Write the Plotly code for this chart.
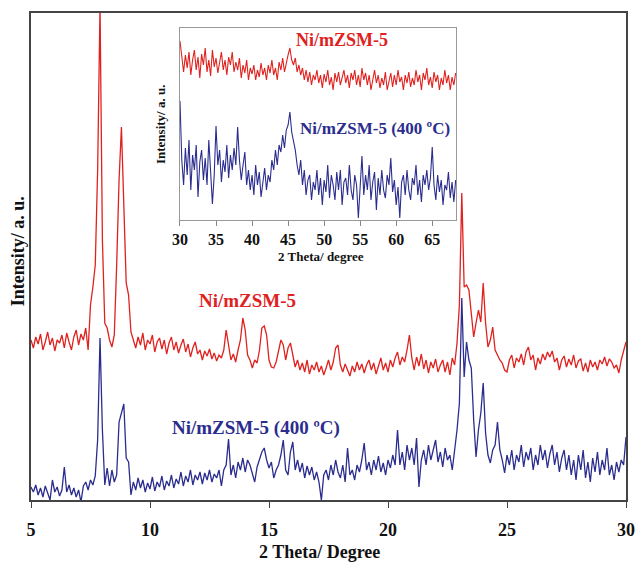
import numpy as np
import plotly.graph_objects as go

# ---- main pattern: 2 theta from 5 to 30 deg, 0.1 deg steps ----
two_theta = np.round(np.arange(5.0, 30.0001, 0.1), 2)

ni_mzsm5 = [
    160, 152, 163, 156, 166, 150, 158, 168, 155, 162,   # 5.0
    149, 160, 157, 165, 152, 167, 158, 150, 163, 170,   # 6.0
    155, 166, 160, 172, 150, 195, 213, 235, 330, 495,   # 7.0
    260, 177, 172, 160, 153, 165, 235, 320, 373, 300,   # 8.0
    217, 205, 168, 160, 152, 163, 155, 167, 150, 160,   # 9.0
    156, 165, 148, 158, 162, 151, 160, 146, 157, 163,   # 10.0
    150, 158, 147, 155, 161, 148, 156, 143, 152, 158,   # 11.0
    146, 150, 140, 149, 144, 151, 141, 147, 139, 145,   # 12.0
    142, 150, 170, 155, 140, 146, 138, 150, 160, 182,   # 13.0
    170, 145, 140, 132, 140, 137, 150, 172, 174, 165,   # 14.0
    140, 133, 132, 138, 150, 160, 155, 140, 152, 157,   # 15.0
    145, 133, 140, 130, 137, 128, 140, 126, 135, 130,   # 16.0
    138, 128, 134, 125, 132, 140, 130, 138, 152, 155,   # 17.0
    135, 128, 136, 130, 124, 134, 128, 138, 130, 136,   # 18.0
    127, 135, 140, 130, 137, 126, 134, 142, 130, 137,   # 19.0
    128, 140, 133, 142, 148, 135, 143, 138, 150, 165,   # 20.0
    142, 130, 143, 134, 146, 131, 140, 127, 138, 132,   # 21.0
    141, 128, 135, 140, 128, 138, 125, 142, 135, 157,   # 22.0
    195, 307, 213, 215, 210, 183, 163, 177, 190, 178,   # 23.0
    217, 177, 153, 160, 173, 150, 145, 140, 137, 130,   # 24.0
    128, 140, 145, 132, 142, 138, 146, 135, 148, 153,   # 25.0
    140, 145, 130, 142, 136, 146, 140, 148, 143, 149,   # 26.0
    138, 142, 130, 140, 144, 133, 141, 135, 145, 132,   # 27.0
    139, 141, 129, 137, 128, 140, 133, 138, 130, 140,   # 28.0
    136, 143, 134, 141, 138, 132, 135, 127, 140, 148,   # 29.0
    158,                                                # 30.0
]

ni_mzsm5_400 = [
    13, 8, 15, 5, 12, 3, 14, 6, 0, 20,                  # 5.0
    8, 13, 4, 10, 33, 8, 15, 5, 12, 3,                  # 6.0
    10, -2, 14, 18, 10, 20, 15, 24, 60, 162,            # 7.0
    70, 15, 32, 14, 30, 18, 25, 78, 88, 96,             # 8.0
    42, 38, 5, 18, 10, 22, 12, 20, 8, 17,               # 9.0
    11, 23, 9, 18, 13, 24, 10, 19, 14, 25,              # 10.0
    12, 21, 16, 28, 14, 24, 18, 30, 15, 25,             # 11.0
    20, 28, 16, 27, 20, 30, 18, 26, 22, 30,             # 12.0
    14, 30, 35, 61, 25, 35, 22, 38, 30, 42,             # 13.0
    28, 40, 35, 25, 18, 33, 40, 48, 52, 40,             # 14.0
    32, 38, 22, 30, 35, 45, 60, 30, 25, 48,             # 15.0
    58, 30, 40, 28, 37, 22, 34, 25, 33, 20,             # 16.0
    28, 18, 0, 25, 30, 20, 35, 25, 40, 28,              # 17.0
    22, 35, 18, 52, 25, 30, 20, 35, 28, 40,             # 18.0
    57, 30, 38, 25, 40, 30, 44, 28, 37, 25,             # 19.0
    40, 32, 45, 35, 70, 35, 48, 30, 55, 40,             # 20.0
    52, 35, 62, 13, 40, 50, 35, 55, 40, 50,             # 21.0
    60, 38, 48, 33, 52, 40, 45, 30, 50, 70,             # 22.0
    97, 202, 123, 158, 140, 132, 80, 43, 70, 87,        # 23.0
    117, 67, 45, 37, 50, 55, 78, 50, 40, 27,            # 24.0
    45, 35, 50, 30, 45, 38, 55, 33, 48, 40,             # 25.0
    52, 30, 45, 35, 55, 40, 50, 32, 46, 55,             # 26.0
    35, 48, 28, 42, 50, 30, 45, 25, 40, 20,             # 27.0
    45, 30, 50, 22, 38, 18, 42, 28, 48, 25,             # 28.0
    40, 30, 52, 25, 35, 20, 38, 28, 40, 35,             # 29.0
    63,                                                 # 30.0
]

# ---- inset pattern: 2 theta from 30 to 68.25 deg, 0.25 deg steps ----
inset_theta = np.round(np.arange(30.0, 68.2501, 0.25), 2)

inset_ni_mzsm5 = [
    179, 160, 148, 165,  152, 168, 145, 160,  170, 150, 163, 142,   # 30-32
    166, 155, 172, 148,  160, 144, 170, 153,  162, 147, 158, 168,   # 33-35
    150, 160, 145, 163,  155, 168, 148, 158,  150, 162, 142, 155,   # 36-38
    147, 160, 140, 152,  146, 155, 140, 150,  143, 157, 145, 152,   # 39-41
    140, 155, 147, 160,  145, 152, 140, 158,  150, 162, 148, 158,   # 42-44
    165, 172, 160, 155,  162, 148, 155, 145,  152, 140, 150, 138,   # 45-47
    148, 135, 145, 140,  150, 137, 145, 132,  146, 138, 150, 135,   # 48-50
    143, 130, 147, 138,  148, 135, 143, 150,  137, 145, 132, 147,   # 51-53
    140, 150, 135, 145,  133, 152, 140, 147,  135, 145, 130, 142,   # 54-56
    150, 137, 145, 132,  142, 135, 148, 130,  140, 147, 133, 145,   # 57-59
    135, 150, 138, 143,  130, 145, 137, 148,  133, 142, 135, 150,   # 60-62
    138, 145, 130, 147,  140, 152, 135, 143,  132, 148, 138, 145,   # 63-65
    130, 142, 135, 150,  137, 145, 130, 143,  135, 147,             # 66-68.25
]

inset_ni_mzsm5_400 = [
    119, 60, 35, 72,  45, 80, 30, 65,  50, 75, 23, 58,              # 30-32
    70, 40, 62, 35,  80, 50, 16, 45,  94, 55, 70, 38,               # 33-35
    60, 48, 75, 42,  65, 50, 72, 55,  93, 60, 40, 55,               # 36-38
    68, 35, 50, 30,  45, 25, 55, 35,  48, 23, 40, 52,               # 39-41
    30, 45, 38, 60,  50, 70, 55, 75,  68, 85, 72, 90,               # 42-44
    95, 108, 88, 80,  70, 55, 45, 60,  35, 50, 25, 40,              # 45-47
    45, 20, 38, 30,  50, 25, 42, 15,  40, 28, 55, 22,               # 48-50
    45, 35, 20, 48,  30, 50, 15, 38,  42, 25, 55, 30,               # 51-53
    20, 45, 35, 2,  40, 64, 25, 45,  30, 55, 20, 38,                # 54-56
    48, 10, 42, 25,  50, 30, 22, 45,  35, 62, 28, 40,               # 57-59
    15, 33, 2, 38,  45, 25, 50, 30,  20, 42, 35, 55,                # 60-62
    25, 40, 18, 45,  35, 50, 30, 42,  73, 35, 20, 45,               # 63-65
    28, 40, 15, 35,  30, 48, 22, 38,  18, 40,                       # 66-68.25
]

main_ticks = [5, 10, 15, 20, 25, 30]
inset_ticks = [30, 35, 40, 45, 50, 55, 60, 65]

RED = "#e0221f"
BLUE = "#2b2d8e"
SERIF = "Liberation Serif"

fig = go.Figure()

fig.add_trace(go.Scatter(x=two_theta, y=ni_mzsm5, mode="lines",
                         line=dict(color=RED, width=1.3), xaxis="x", yaxis="y"))
fig.add_trace(go.Scatter(x=two_theta, y=ni_mzsm5_400, mode="lines",
                         line=dict(color=BLUE, width=1.3), xaxis="x", yaxis="y"))
fig.add_trace(go.Scatter(x=inset_theta, y=inset_ni_mzsm5, mode="lines",
                         line=dict(color=RED, width=1.1), xaxis="x2", yaxis="y2"))
fig.add_trace(go.Scatter(x=inset_theta, y=inset_ni_mzsm5_400, mode="lines",
                         line=dict(color=BLUE, width=1.1), xaxis="x2", yaxis="y2"))

tick_font = dict(family=SERIF, size=18, color="#111111")
inset_tick_font = dict(family=SERIF, size=16, color="#111111")

fig.update_layout(
    width=638, height=565,
    margin=dict(l=31, r=12, t=13, b=65, autoexpand=False),
    paper_bgcolor="white", plot_bgcolor="white",
    showlegend=False,
    xaxis=dict(range=[5, 30], tickvals=main_ticks,
               ticktext=[f"<b>{t}</b>" for t in main_ticks],
               ticks="outside", ticklen=6, tickwidth=1.3, tickcolor="#444444",
               showline=True, linecolor="#444444", linewidth=1.6, mirror=True,
               showgrid=False, zeroline=False, tickfont=tick_font,
               ticklabelstandoff=7, automargin=False),
    yaxis=dict(range=[0, 487], showticklabels=False, ticks="",
               showline=True, linecolor="#444444", linewidth=1.6, mirror=True,
               showgrid=False, zeroline=False, automargin=False),
    xaxis2=dict(domain=[0.2504, 0.7143], anchor="y2", range=[30, 68.3],
                tickvals=inset_ticks, ticktext=[f"<b>{t}</b>" for t in inset_ticks],
                ticks="outside", ticklen=5, tickwidth=1, tickcolor="#888888",
                showline=True, linecolor="#999999", linewidth=1.2, mirror=True,
                showgrid=False, zeroline=False, tickfont=inset_tick_font,
                ticklabelstandoff=0, automargin=False),
    yaxis2=dict(domain=[0.5749, 0.9692], anchor="x2", range=[0, 192],
                showticklabels=False, ticks="",
                showline=True, linecolor="#999999", linewidth=1.2, mirror=True,
                showgrid=False, zeroline=False, automargin=False),
)

def label(text, x, y, size, color="#111111", angle=0, xref="paper", yref="paper"):
    fig.add_annotation(text=f"<b>{text}</b>", x=x, y=y, xref=xref, yref=yref,
                       showarrow=False, textangle=angle,
                       xanchor="center", yanchor="middle",
                       font=dict(family=SERIF, size=size, color=color))

# axis titles
label("Intensity/ a. u.", -0.0218, 0.511, 18, angle=-90)
label("2 Theta/ Degree", 0.4857, -0.106, 18)
label("Intensity/ a. u.", 0.2168, 0.772, 13, angle=-90)
label("2 Theta/ degree", 0.4882, 0.499, 13)

# series labels
label("Ni/mZSM-5", 14.08, 200, 19, RED, xref="x", yref="y")
label("Ni/mZSM-5 (400 ºC)", 14.45, 72, 19, BLUE, xref="x", yref="y")
label("Ni/mZSM-5", 52.5, 180, 18, RED, xref="x2", yref="y2")
label("Ni/mZSM-5 (400 ºC)", 57.1, 92, 17, BLUE, xref="x2", yref="y2")

fig.write_html("out.html")
